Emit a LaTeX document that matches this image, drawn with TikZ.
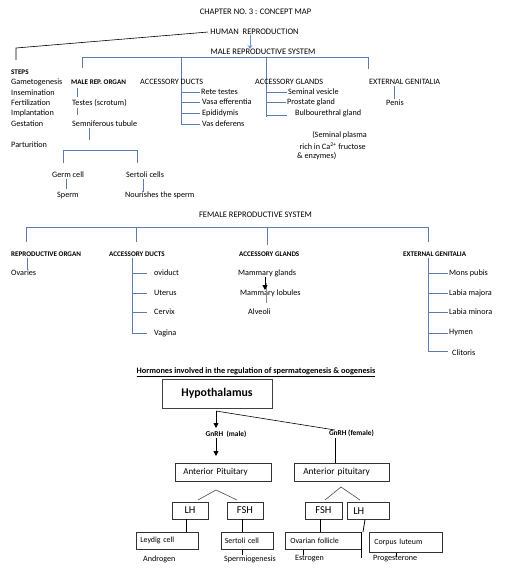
\documentclass[tikz,border=0pt]{standalone}
\usepackage{fontspec}
\setmainfont{Carlito}
\usetikzlibrary{arrows.meta}
\newcommand\fsz[1]{\fontsize{#1}{#1}\selectfont}
\definecolor{lnk}{RGB}{95,125,170}
\definecolor{arrblue}{RGB}{110,150,205}
\tikzset{
  txt/.style={inner sep=0pt, anchor=west, font=\fsz{8.2}},
  ctxt/.style={inner sep=0pt, anchor=center, font=\fsz{8.5}},
  hdr/.style={inner sep=0pt, anchor=west, font=\bfseries\fsz{7.1}},
  sml/.style={inner sep=0pt, anchor=west, font=\fsz{8.1}},
  lk/.style={draw=lnk, line width=0.6pt},
  bk/.style={draw=black, line width=0.6pt},
  bx/.style={draw=black!80, line width=0.6pt, anchor=north west, inner ysep=0pt, align=left},
}
\begin{document}
\begin{tikzpicture}[x=1pt,y=-1pt]
\useasboundingbox[fill=white] (0,0) rectangle (505,571);

% ---------- top ----------
\node[ctxt] (title) at (255.5,12) {CHAPTER NO. 3 : CONCEPT MAP};
\node[ctxt] (human) at (254.5,32) {HUMAN\ \ REPRODUCTION};
\node[ctxt] (malesys) at (263,52) {MALE REPRODUCTIVE SYSTEM};
\draw[draw=arrblue, line width=0.7pt, -{Stealth[open,length=4pt,width=5pt]}] (human.south -| 250,0) -- (malesys.north -| 250,0);
\coordinate (stepsTop) at (16,48);
\coordinate (stepsEnd) at (16,60);
\draw[bk] ([xshift=-2pt]human.west) -- (stepsTop) -- (stepsEnd);

% male bracket
\coordinate (mb1) at (82,57); \coordinate (mb2) at (181,57);
\coordinate (mb3) at (266,57); \coordinate (mb4) at (368,57);
\draw[lk] (mb1) -- (mb4);
\draw[lk] (mb1) -- (82,68);
\draw[lk] (mb2) -- (181,125);
\draw[lk] (mb3) -- (266,117);
\draw[lk] (mb4) -- (368,69);

% steps
\node[hdr] (steps) at (11,72) {STEPS};
\node[txt] (s1) at (11,82) {Gametogenesis};
\node[txt] (s2) at (11,93) {Insemination};
\node[txt] (s3) at (11,103) {Fertilization};
\node[txt] (s4) at (11,113) {Implantation};
\node[txt] (s5) at (11,124) {Gestation};
\node[txt] (s6) at (11,145) {Parturition};

% male rep organ
\node[hdr] (mro) at (71,82) {MALE REP. ORGAN};
\node[txt] (testes) at (72,103) {Testes (scrotum)};
\node[txt] (semt) at (72,124) {Semniferous tubule};
\draw[lk] (77,88) -- (77,97);
\draw[lk] (77,108) -- (77,115);
\draw[lk] (89,128) -- (89,140);
\coordinate (gb1) at (63,150); \coordinate (gb2) at (137,150);
\draw[lk] (63,163) -- (gb1) -- (gb2) -- (137,163);
\node[txt] (germ) at (52,175) {Germ cell};
\node[txt] (sperm) at (57,195) {Sperm};
\node[txt] (sert) at (126,175) {Sertoli cells};
\node[txt] (nour) at (125,195) {Nourishes the sperm};
\draw[lk] (66,179) -- (66,189);
\draw[lk] (143,179) -- (143,192);

% accessory ducts
\node[txt] (mad) at (140,82) {ACCESSORY DUCTS};
\node[txt] (rete) at (201,92) {Rete testes};
\node[txt] (vasa) at (202,102) {Vasa efferentia};
\node[txt] (epi) at (202,113) {Epididymis};
\node[txt] (vasd) at (202,124) {Vas deferens};
\foreach \y in {92,102,113,124} \draw[lk] (181,\y) -- (200,\y);

% accessory glands
\node[txt] (mag) at (255,82) {ACCESSORY GLANDS};
\node[txt] (semv) at (288,92) {Seminal vesicle};
\node[txt] (pros) at (287,102) {Prostate gland};
\node[txt] (bulb) at (295,113) {Bulbourethral gland};
\draw[lk] (266,92) -- (287,92);
\draw[lk] (266,102) -- (286,102);
\draw[lk] (266,115) -- (287,115);
\node[txt, anchor=east] (sp1) at (367,135) {(Seminal plasma};
\node[txt, anchor=east] (sp2) at (366,146) {rich in Ca\textsuperscript{2+} fructose};
\node[txt] (sp3) at (297,156) {\& enzymes)};

% external genitalia
\node[txt] (meg) at (369,82) {EXTERNAL GENITALIA};
\node[txt] (penis) at (386,103) {Penis};
\draw[lk] (394,86) -- (394,99);

% ---------- female ----------
\node[ctxt] (femsys) at (255.5,215) {FEMALE REPRODUCTIVE SYSTEM};
\coordinate (fb1) at (26,227); \coordinate (fb2) at (136,227);
\coordinate (fb3) at (267,227); \coordinate (fb4) at (428,227);
\draw[lk] (fb1) -- (fb4);
\draw[lk] (fb1) -- (26,242);
\draw[lk] (fb2) -- (136,242);
\draw[lk] (fb3) -- (267,245);
\draw[lk] (fb4) -- (428,242);

\node[hdr] (fro) at (11,254) {REPRODUCTIVE ORGAN};
\node[txt] (ovar) at (11,273) {Ovaries};
\draw[lk] (27,258) -- (27,270);

\node[hdr] (fad) at (109,254) {ACCESSORY DUCTS};
\draw[lk] (132,258) -- (132,333);
\node[txt] (ovid) at (154,273) {oviduct};
\node[txt] (uter) at (154,293) {Uterus};
\node[txt] (cerv) at (154,312) {Cervix};
\node[txt] (vagi) at (154,333) {Vagina};
\foreach \y in {273,293,312,333} \draw[lk] (132,\y) -- (147,\y);

\node[hdr] (fag) at (239,254) {ACCESSORY GLANDS};
\node[txt] (mamg) at (238,273) {Mammary glands};
\node[txt] (maml) at (240,293) {Mammary lobules};
\node[txt] (alve) at (248,312) {Alveoli};
\draw[draw=black!45, line width=0.5pt] (266,283) -- (266,303);
\draw[draw=black, line width=1pt, -{Triangle[length=5pt,width=5pt]}] (265,277) -- (265,290);

\node[hdr] (feg) at (403,254) {EXTERNAL GENITALIA};
\draw[lk] (428,258) -- (428,351);
\node[txt] (mons) at (449,273) {Mons pubis};
\node[txt] (lmaj) at (449,293) {Labia majora};
\node[txt] (lmin) at (449,312) {Labia minora};
\node[txt] (hym) at (449,333) {Hymen};
\node[txt] (clit) at (452,353) {Clitoris};
\foreach \y in {273,293,312,333,351} \draw[lk] (428,\y) -- (448,\y);

% ---------- hormones ----------
\node[ctxt, font=\bfseries\fsz{8.3}] (horm) at (256,372) {\underline{Hormones involved in the regulation of spermatogenesis \& oogenesis}};
\node[draw=black!75, line width=0.6pt, minimum width=110pt, minimum height=29pt, inner sep=0pt, font=\bfseries\fsz{11.8}] (hyp) at (217,393.5) {Hypothalamus};
\coordinate (gm1) at (216,411);
\coordinate (gm2) at (216,428);
\coordinate (gm3) at (216,438);
\coordinate (gm4) at (216,456);
\node[ctxt, font=\bfseries\fsz{7.4}] (gnm) at (226,434) {GnRH\ \ (male)};
\node[ctxt, font=\bfseries\fsz{7.4}] (gnf) at (351.5,433) {GnRH (female)};
\draw[bk, line width=0.8pt, -{Triangle[length=5pt,width=5pt]}] (gm1) -- (gm2);
\draw[bk, line width=0.8pt, -{Triangle[length=5pt,width=5pt]}] (gm3) -- (gm4);
\coordinate (gf1) at (335,430);
\coordinate (gf2) at (335,438);
\draw[bk] (gm1) -- (gf1);

\node[bx, text width=80pt, inner xsep=8pt, minimum height=18pt, font=\fsz{9}] (apm) at (175,463) {Anterior Pituitary};
\node[bx, text width=77pt, inner xsep=9pt, minimum height=18pt, font=\fsz{9.3}] (apf) at (294,463) {Anterior pituitary};
\draw[bk, line width=1pt] (gf2) -- (apf.north -| gf2);

% male branch
\coordinate (ma) at (216,490);
\coordinate (mal) at (198,500);
\coordinate (mar) at (237,500);
\draw[bk, draw=black!70] (mal) -- (ma) -- (mar);
\node[draw=black!80, line width=0.6pt, minimum width=36pt, minimum height=17pt, inner sep=0pt, font=\fsz{10.5}] (lhm) at (190,510.5) {LH};
\node[draw=black!80, line width=0.6pt, minimum width=36pt, minimum height=17pt, inner sep=0pt, font=\fsz{10.5}] (fshm) at (245,510.5) {FSH};
\node[bx, text width=54pt, inner xsep=4pt, minimum height=17pt, font=\fsz{7.9}] (leyd) at (136,532) {Leydig cell};
\node[bx, text width=45pt, inner xsep=3.5pt, minimum height=17pt, font=\fsz{7.9}] (sercell) at (221,532) {Sertoli cell};
\draw[bk, line width=1pt] (lhm.south -| 186,0) -- (leyd.north -| 186,0);
\draw[bk, line width=1pt] (fshm.south -| 242,0) -- (sercell.north -| 242,0);
\node[sml] (andr) at (143,559) {Androgen};
\node[sml] (spmg) at (224,559) {Spermiogenesis};
\draw[bk, line width=0.5pt] (sercell.south -| 242,0) -- (242,555);

% female branch
\coordinate (fa) at (341,487);
\coordinate (fal) at (325,500);
\coordinate (far) at (360,500);
\draw[bk, draw=black!70] (fal) -- (fa) -- (far);
\node[draw=black!80, line width=0.6pt, minimum width=37pt, minimum height=17pt, inner sep=0pt, font=\fsz{10.5}] (fshf) at (323.5,510.5) {FSH};
\node[draw=black!80, line width=0.6pt, anchor=north west, text width=30pt, inner xsep=6pt, inner ysep=0pt, minimum height=17pt, align=left, font=\fsz{10.5}] (lhf) at (347,502) {LH};
\node[bx, text width=66pt, inner xsep=5pt, minimum height=17pt, font=\fsz{7.9}] (ovf) at (285,532) {Ovarian follicle};
\draw[bk, line width=1pt] (ovf.north east) -- ([yshift=-8pt]ovf.south east);
\node[bx, text width=63pt, inner xsep=5pt, minimum height=20pt, font=\fsz{7.9}] (corp) at (369,532) {Corpus luteum};
\draw[bk, line width=0.8pt] (fshf.south -| 320,0) -- (ovf.north -| 320,0);
\coordinate (lhfe) at (363,532);
\draw[bk, line width=0.8pt] (lhf.south -| 365,0) -- (lhfe);
\node[sml] (estr) at (295,559) {Estrogen};
\node[sml] (prog) at (373,559) {Progesterone};
\draw[bk, line width=0.5pt] (ovf.south -| 303,0) -- (303,555);
\draw[bk, line width=0.5pt] (corp.south -| 396,0) -- (396,557);
\end{tikzpicture}
\end{document}
